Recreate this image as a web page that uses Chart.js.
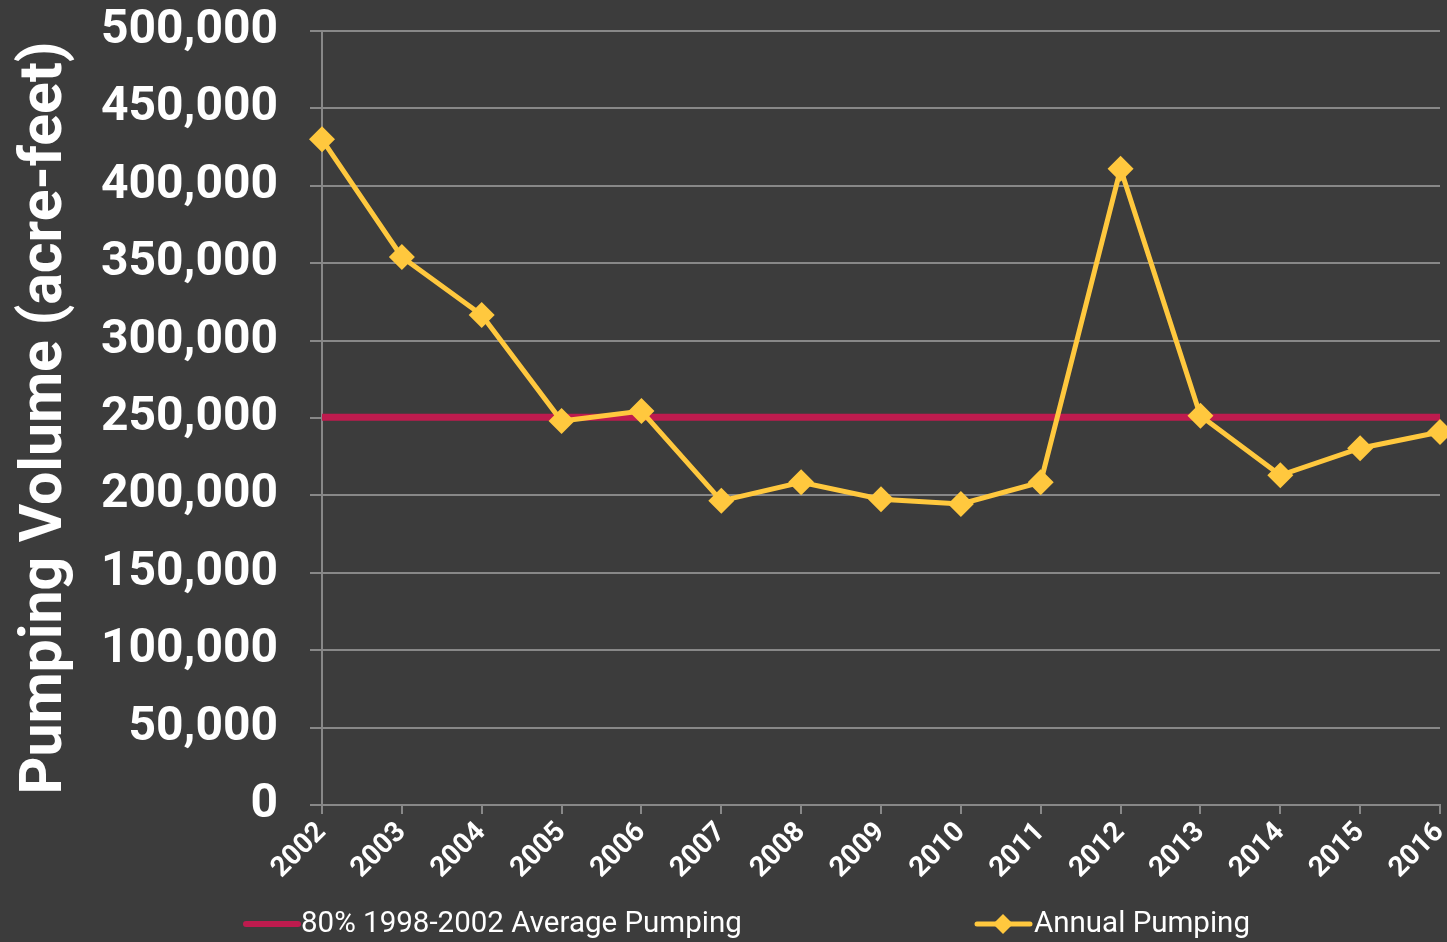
<!DOCTYPE html>
<html>
<head>
<meta charset="utf-8">
<script src="https://cdn.jsdelivr.net/npm/chart.js@4/dist/chart.umd.min.js"></script>
<style>
html,body{margin:0;padding:0;background:#3c3c3c;}
#wrap{width:1447px;height:942px;position:relative;}
</style>
</head>
<body>
<div id="wrap"><canvas id="c" width="1447" height="942"></canvas></div>
<script>
const years = ['2002','2003','2004','2005','2006','2007','2008','2009','2010','2011','2012','2013','2014','2015','2016'];
const annualPumping = [430000,354000,316500,248000,254500,196500,208500,197500,194500,208500,411000,251500,213000,230500,241000];
const avgPumpingLevel = 250500;
const avgPumping = years.map(() => avgPumpingLevel);
const seriesNames = ['80% 1998-2002 Average Pumping','Annual Pumping'];
const yTitle = 'Pumping Volume (acre-feet)';

const RED = '#BE1B4E';
const YEL = '#FFC83E';
const GRID = '#888888';

const legendPlugin = {
  id: 'customLegend',
  afterDraw(chart) {
    const ctx = chart.ctx;
    const y = 924;
    ctx.save();
    ctx.font = '29.5px Roboto';
    ctx.fillStyle = '#ffffff';
    ctx.textBaseline = 'middle';
    ctx.textAlign = 'left';
    ctx.lineCap = 'round';
    ctx.strokeStyle = RED;
    ctx.lineWidth = 6;
    ctx.beginPath(); ctx.moveTo(246, y); ctx.lineTo(298, y); ctx.stroke();
    ctx.fillText(chart.data.datasets[0].label, 301, y + 1);
    ctx.strokeStyle = YEL;
    ctx.lineWidth = 5;
    ctx.beginPath(); ctx.moveTo(977, y); ctx.lineTo(1030, y); ctx.stroke();
    ctx.fillStyle = YEL;
    ctx.beginPath();
    const cx = 1003, r = 10;
    ctx.moveTo(cx - r, y); ctx.lineTo(cx, y - r); ctx.lineTo(cx + r, y); ctx.lineTo(cx, y + r); ctx.closePath(); ctx.fill();
    ctx.fillStyle = '#ffffff';
    ctx.fillText(chart.data.datasets[1].label, 1034, y + 1);
    ctx.restore();
  }
};

new Chart(document.getElementById('c'), {
  type: 'line',
  data: {
    labels: years,
    datasets: [
      {
        label: seriesNames[0],
        data: avgPumping,
        borderColor: RED,
        backgroundColor: RED,
        borderWidth: 7,
        pointRadius: 0,
        pointHoverRadius: 0,
        fill: false,
        clip: false,
        order: 2
      },
      {
        label: seriesNames[1],
        data: annualPumping,
        borderColor: YEL,
        backgroundColor: YEL,
        borderWidth: 5,
        pointStyle: 'rectRot',
        pointRadius: 13,
        pointBorderWidth: 0,
        pointBackgroundColor: YEL,
        fill: false,
        tension: 0,
        clip: false,
        order: 1
      }
    ]
  },
  options: {
    responsive: false,
    animation: false,
    devicePixelRatio: 1,
    layout: { autoPadding: false, padding: { left: 0, right: 0, top: 2, bottom: 50 } },
    plugins: {
      legend: { display: false },
      tooltip: { enabled: false }
    },
    scales: {
      x: {
        type: 'category',
        offset: false,
        grid: { drawOnChartArea: false, drawTicks: true, tickLength: 9, color: GRID, lineWidth: 2 },
        border: { display: true, color: GRID, width: 2 },
        ticks: {
          color: '#ffffff',
          font: { family: 'Roboto', weight: 'bold', size: 28 },
          minRotation: 45,
          maxRotation: 45,
          autoSkip: false,
          padding: 2
        },
        afterFit(s) { s.height = 87; s.paddingRight = 7; s.paddingLeft = 0; }
      },
      y: {
        min: 0,
        max: 500000,
        grid: { color: GRID, lineWidth: 2, tickLength: 12, drawTicks: true },
        border: { display: true, color: GRID, width: 2 },
        ticks: {
          stepSize: 50000,
          color: '#ffffff',
          font: { family: 'Roboto', weight: 'bold', size: 48 },
          padding: 32,
          callback: v => v.toLocaleString('en-US')
        },
        title: {
          display: true,
          text: yTitle,
          color: '#ffffff',
          font: { family: 'Roboto', weight: 'bold', size: 59 },
          padding: { top: 11, bottom: 0 }
        },
        afterFit(s) { s.width = 322; s.paddingTop = 31; s.paddingBottom = 0; }
      }
    }
  },
  plugins: [legendPlugin]
});
</script>
</body>
</html>
